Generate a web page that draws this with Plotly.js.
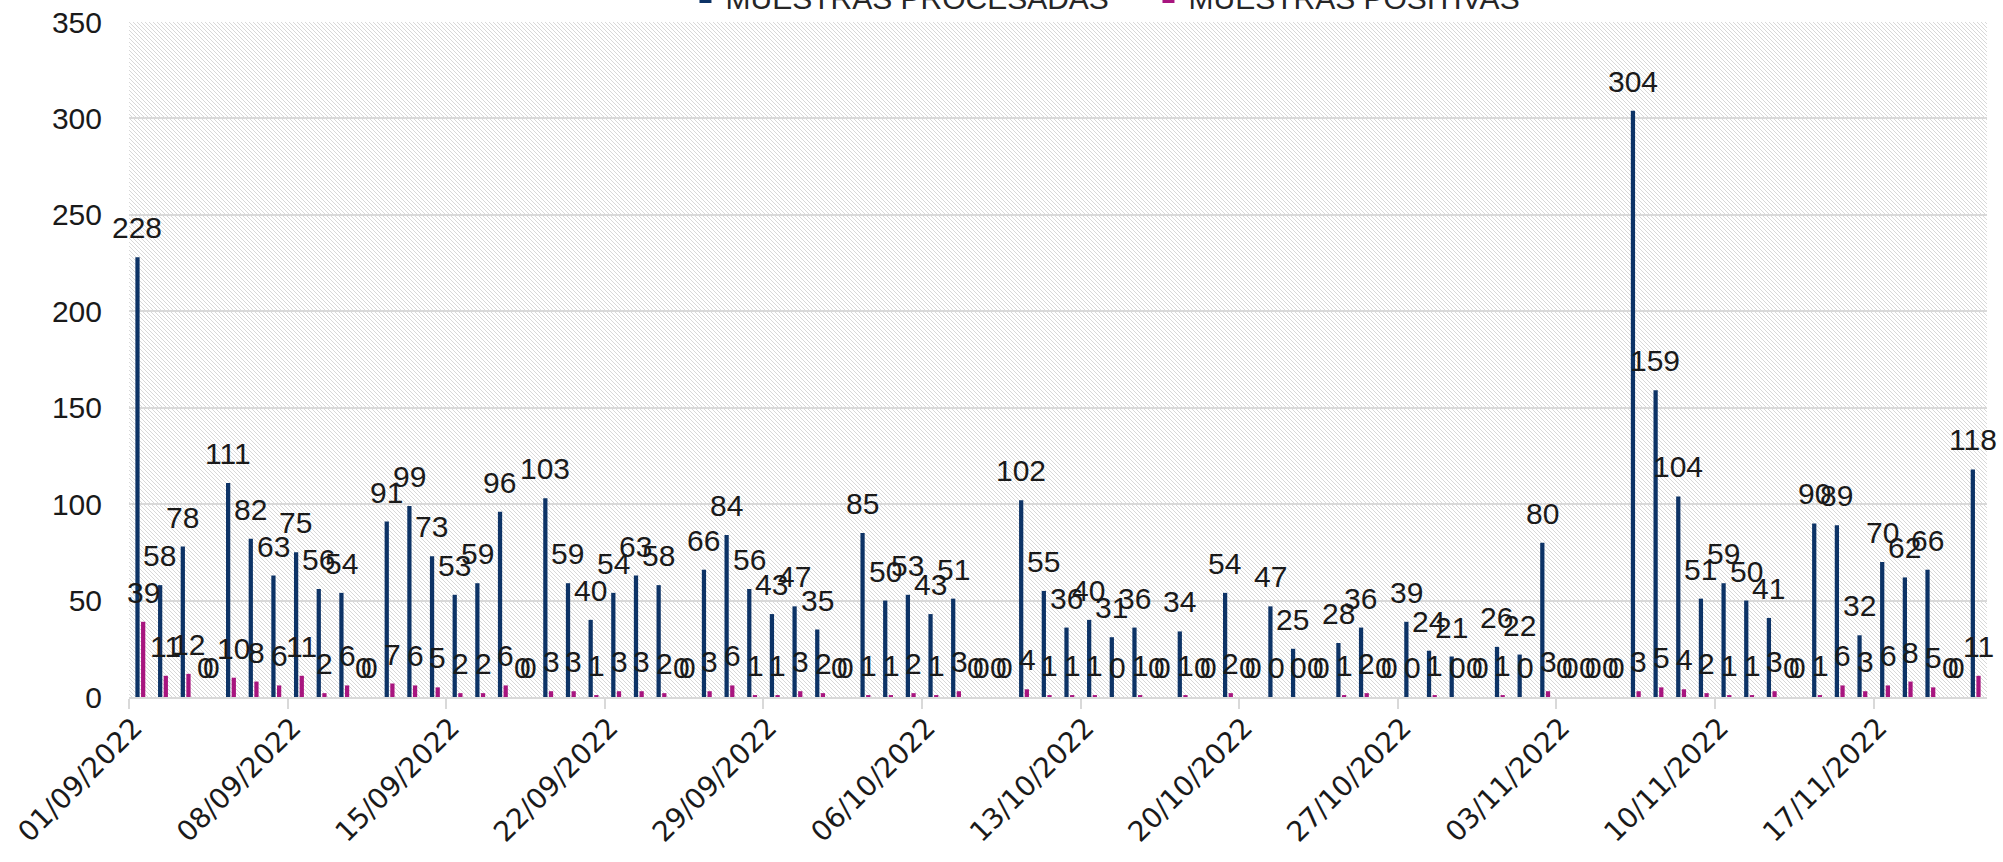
<!DOCTYPE html>
<html>
<head>
<meta charset="utf-8">
<script src="https://cdn.plot.ly/plotly-3.0.1.min.js"></script>
<style>
  html, body { margin: 0; padding: 0; background: #ffffff; }
  #chart { width: 2003px; height: 862px; }
</style>
</head>
<body>
<div id="chart"></div>
<script>
// ---- Data ----
const dates = [
  '2022-09-01','2022-09-02','2022-09-03','2022-09-04','2022-09-05','2022-09-06','2022-09-07',
  '2022-09-08','2022-09-09','2022-09-10','2022-09-11','2022-09-12','2022-09-13','2022-09-14',
  '2022-09-15','2022-09-16','2022-09-17','2022-09-18','2022-09-19','2022-09-20','2022-09-21',
  '2022-09-22','2022-09-23','2022-09-24','2022-09-25','2022-09-26','2022-09-27','2022-09-28',
  '2022-09-29','2022-09-30','2022-10-01','2022-10-02','2022-10-03','2022-10-04','2022-10-05',
  '2022-10-06','2022-10-07','2022-10-08','2022-10-09','2022-10-10','2022-10-11','2022-10-12',
  '2022-10-13','2022-10-14','2022-10-15','2022-10-16','2022-10-17','2022-10-18','2022-10-19',
  '2022-10-20','2022-10-21','2022-10-22','2022-10-23','2022-10-24','2022-10-25','2022-10-26',
  '2022-10-27','2022-10-28','2022-10-29','2022-10-30','2022-10-31','2022-11-01','2022-11-02',
  '2022-11-03','2022-11-04','2022-11-05','2022-11-06','2022-11-07','2022-11-08','2022-11-09',
  '2022-11-10','2022-11-11','2022-11-12','2022-11-13','2022-11-14','2022-11-15','2022-11-16',
  '2022-11-17','2022-11-18','2022-11-19','2022-11-20','2022-11-21'
];

const muestrasProcesadas = [
  228, 58, 78, 0, 111, 82, 63,
  75, 56, 54, 0, 91, 99, 73,
  53, 59, 96, 0, 103, 59, 40,
  54, 63, 58, 0, 66, 84, 56,
  43, 47, 35, 0, 85, 50, 53,
  43, 51, 0, 0, 102, 55, 36,
  40, 31, 36, 0, 34, 0, 54,
  0, 47, 25, 0, 28, 36, 0,
  39, 24, 21, 0, 26, 22, 80,
  0, 0, 0, 304, 159, 104, 51,
  59, 50, 41, 0, 90, 89, 32,
  70, 62, 66, 0, 118
];

const muestrasPositivas = [
  39, 11, 12, 0, 10, 8, 6,
  11, 2, 6, 0, 7, 6, 5,
  2, 2, 6, 0, 3, 3, 1,
  3, 3, 2, 0, 3, 6, 1,
  1, 3, 2, 0, 1, 1, 2,
  1, 3, 0, 0, 4, 1, 1,
  1, 0, 1, 0, 1, 0, 2,
  0, 0, 0, 0, 1, 2, 0,
  0, 1, 0, 0, 1, 0, 3,
  0, 0, 0, 3, 5, 4, 2,
  1, 1, 3, 0, 1, 6, 3,
  6, 8, 5, 0, 11
];

const seriesNames = ['MUESTRAS PROCESADAS', 'MUESTRAS POSITIVAS'];
const yTicks = [0, 50, 100, 150, 200, 250, 300, 350];

// ---- Styling ----
const FONT = 'Liberation Sans, Arial, sans-serif';
const DATEFONT = 'DejaVu Sans, Liberation Sans, sans-serif';
const BLUE = '#0D3366';
const PINK = '#A8157F';
const TXT = '#1a1a1a';
const GRID = '#d9d9d9';

// bars placed at the middle of each day, ticks at day boundaries
const xs = dates.map(d => d + ' 12:00');

const traces = [
  { type: 'bar', name: seriesNames[0], x: xs, y: muestrasProcesadas,
    marker: { color: BLUE }, hoverinfo: 'x+y' },
  { type: 'bar', name: seriesNames[1], x: xs, y: muestrasPositivas,
    marker: { color: PINK }, hoverinfo: 'x+y' }
];

// data labels
const annotations = [];
[[muestrasProcesadas, -3], [muestrasPositivas, 3]].forEach(([vals, dx]) => {
  vals.forEach((v, i) => {
    annotations.push({
      x: xs[i], y: v, xref: 'x', yref: 'y',
      text: String(v), showarrow: false,
      xanchor: 'center', yanchor: 'bottom',
      xshift: dx, yshift: 11,
      font: { family: FONT, size: 30, color: TXT }
    });
  });
});

// hatched plot background
const PW = 1858, PH = 675;
const svg = `<svg xmlns="http://www.w3.org/2000/svg" width="${PW}" height="${PH}">` +
  `<defs><pattern id="p" patternUnits="userSpaceOnUse" width="4" height="4">` +
  `<path d="M-1,-1 L5,5 M-1,3 L1,5 M3,-1 L5,1" stroke="#d4d4d4" stroke-width="0.9"/>` +
  `</pattern></defs><rect width="${PW}" height="${PH}" fill="#ffffff"/>` +
  `<rect width="${PW}" height="${PH}" fill="url(#p)"/></svg>`;
const bgSrc = 'data:image/svg+xml;charset=utf-8,' + encodeURIComponent(svg);

const layout = {
  width: 2003, height: 862,
  margin: { l: 129, r: 16, t: 22, b: 165, autoexpand: false },
  paper_bgcolor: '#ffffff',
  plot_bgcolor: 'rgba(0,0,0,0)',
  barmode: 'group', bargap: 0.5, bargroupgap: 0.25,
  showlegend: true,
  legend: {
    orientation: 'h', x: 0.2995, xanchor: 'left', y: 1.037, yanchor: 'middle',
    font: { family: FONT, size: 30, color: '#262626' },
    bgcolor: 'rgba(0,0,0,0)', itemwidth: 30, traceorder: 'normal',
    entrywidth: 418
  },
  xaxis: {
    type: 'date',
    range: ['2022-09-01', '2022-11-22'],
    tick0: '2022-09-01', dtick: 7 * 86400000,
    tickformat: '%d/%m/%Y', tickangle: -45,
    ticks: 'outside', ticklen: 10, tickwidth: 2, tickcolor: GRID,
    ticklabelshift: 5, ticklabelstandoff: -9,
    showline: true, linecolor: GRID, linewidth: 2,
    showgrid: false, zeroline: false,
    tickfont: { family: DATEFONT, size: 28, color: TXT },
    fixedrange: true
  },
  yaxis: {
    range: [0, 350], tickvals: yTicks, ticktext: yTicks.map(String),
    showgrid: true, gridcolor: GRID, gridwidth: 2,
    zeroline: false, showline: false, ticks: '',
    ticklabelstandoff: 26,
    tickfont: { family: FONT, size: 30, color: TXT },
    fixedrange: true
  },
  images: [{
    source: bgSrc, xref: 'paper', yref: 'paper',
    x: 0, y: 1, sizex: 1, sizey: 1,
    xanchor: 'left', yanchor: 'top', sizing: 'stretch', layer: 'below'
  }],
  annotations: annotations
};

Plotly.newPlot('chart', traces, layout, { displayModeBar: false, staticPlot: true });
</script>
</body>
</html>
